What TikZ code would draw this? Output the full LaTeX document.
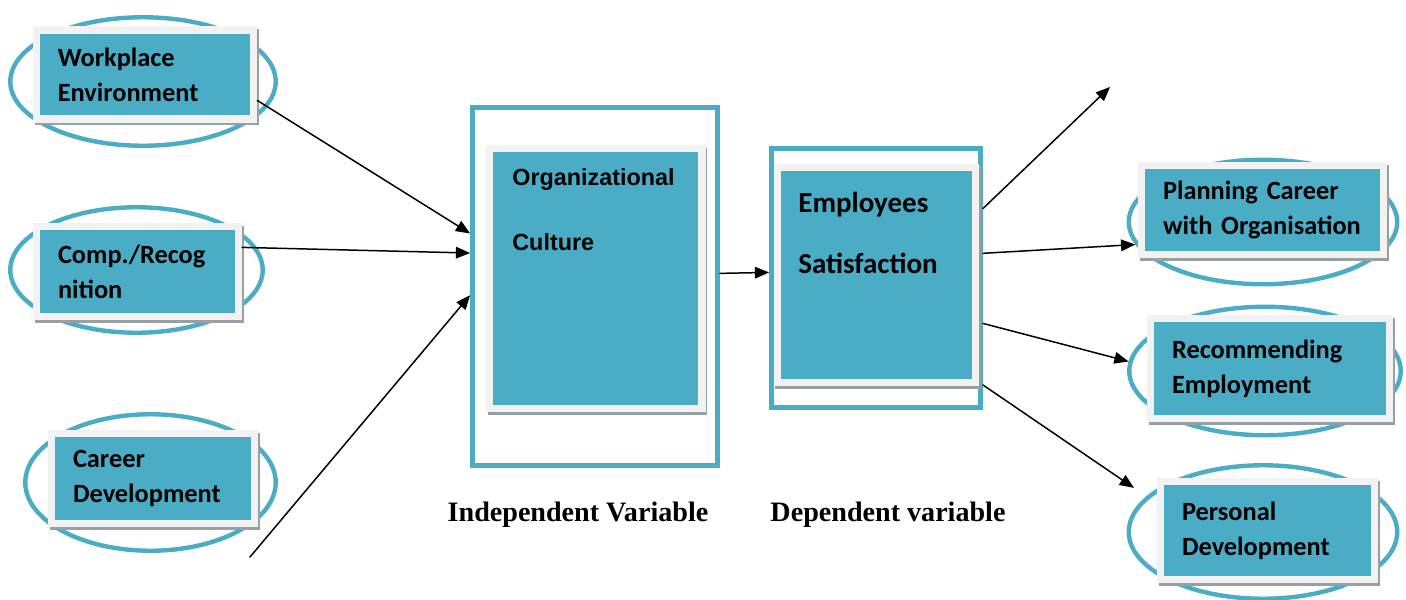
\documentclass[tikz,border=0pt]{standalone}
\usepackage{fontspec}
\setmainfont{Carlito}
\newfontfamily\arialfont{Liberation Sans}
\newfontfamily\timesfont{Liberation Serif}
\usetikzlibrary{arrows}
\usetikzlibrary{positioning}
\usetikzlibrary{shapes.geometric}

\definecolor{cardteal}{RGB}{75,172,198}
\definecolor{cardframe}{RGB}{242,242,242}
\definecolor{cardshade}{RGB}{150,160,166}

\tikzset{
  ring/.style={ellipse, draw=cardteal, line width=2.5pt, inner sep=0pt},
  card/.style={rectangle, fill=cardteal, draw=cardframe, line width=4pt,
    inner xsep=0.43cm, inner ysep=0pt, align=left,
    font=\fontsize{15}{20}\selectfont\bfseries,
    preaction={draw=cardshade, transform canvas={shift={(1pt,-1.6pt)}}}},
  panel/.style={rectangle, draw=cardteal, line width=2.8pt, fill=white},
  conn/.style={->, line width=0.85pt},
  caption/.style={font=\timesfont\bfseries\fontsize{16}{19}\selectfont}
}

\begin{document}
\begin{tikzpicture}[line cap=round,>=triangle 45,x=0.02cm,y=-0.02cm]
\useasboundingbox (0,0) rectangle (1406,599);

% left side: the three factors
\node[ring, minimum width=5.31cm, minimum height=2.57cm] (work-ring) at (143,81.5) {};
\node[ring, minimum width=5.05cm, minimum height=2.51cm] (comp-ring) at (136.5,270) {};
\node[ring, minimum width=5.01cm, minimum height=2.73cm] (career-ring) at (150.5,482.5) {};
\node[card, text width=3.49cm, minimum height=1.78cm] (work) at (145,74.5) {Workplace\\Environment};
\node[card, text width=3.18cm, minimum height=1.8cm] (comp) at (137.5,271.5) {Comp./Recog\\nition};
\node[card, text width=3.2cm, minimum height=1.8cm] (career) at (153,478.5) {Career\\Development};

% independent variable
\node[panel, minimum width=4.9cm, minimum height=7.16cm] (org) at (595,286.5) {};
\node[card, minimum width=4.25cm, minimum height=5.2cm] (org-card) at (595.75,278.5) {};
\node[anchor=west, align=left, inner sep=0pt,
  font=\arialfont\bfseries\fontsize{13.3}{16}\selectfont] (org-name) at (512,209.5) {Organizational\\[21pt]Culture};

% dependent variable
\node[panel, minimum width=4.18cm, minimum height=5.18cm] (emp) at (876,278) {};
\node[card, minimum width=3.97cm, minimum height=4.31cm] (emp-card) at (876.25,274.75) {};
\node[anchor=west, align=left, inner sep=0pt,
  font=\bfseries\fontsize{16.5}{20}\selectfont] (emp-name) at (798,232.5) {Employees\\[14.7pt]Satisfaction};

% right side: outcomes
\node[ring, minimum width=5.37cm, minimum height=2.49cm] (plan-ring) at (1263,222) {};
\node[ring, minimum width=5.43cm, minimum height=2.57cm] (rec-ring) at (1265,371) {};
\node[ring, minimum width=5.37cm, minimum height=2.67cm] (pers-ring) at (1263,532) {};
\node[card, text width=3.98cm, minimum height=1.78cm] (plan) at (1262.5,210) {Planning Career\\with Organisation};
\node[card, text width=3.92cm, minimum height=2cm] (rec) at (1270,368.5) {Recommending\\Employment};
\node[card, text width=3.42cm, minimum height=1.96cm] (pers) at (1267.5,530.5) {Personal\\Development};

\node[caption] (indep) at (578,515) {Independent Variable};
\node[caption] (dep) at (888,515) {Dependent variable};

% connectors
\coordinate (career-tail) at (250,557);
\coordinate (top-free) at (1110,87);
\draw[conn] (work.-13) -- (org.157);
\draw[conn] (comp.13) -- (org.165);
\draw[conn] (career-tail) -- (org.184);
\draw[conn] (org.6) -- (emp.177);
\draw[conn] (emp.33.6) -- (top-free);
\draw[conn] (emp.13.7) -- (plan-ring.190);
\draw[conn] (emp.-23.7) -- (rec-ring.176);
\draw[conn, shorten >=0.3cm] (emp.-45) -- (pers-ring.163);
\end{tikzpicture}
\end{document}
